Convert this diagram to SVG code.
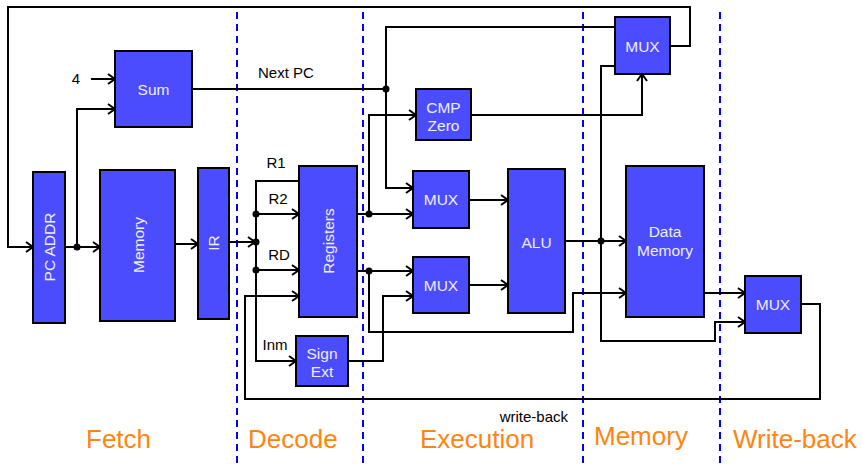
<svg xmlns="http://www.w3.org/2000/svg" width="862" height="465" viewBox="0 0 862 465">
<style>
.box{fill:#4C4CFF;stroke:#000;stroke-width:2}
.bt{font-family:"Liberation Sans",Arial,sans-serif;font-size:15.5px;fill:#EEEEFF;text-anchor:middle;dominant-baseline:central}
.lb{font-family:"Liberation Sans",Arial,sans-serif;font-size:15px;fill:#000}
.st{font-family:"Liberation Sans",Arial,sans-serif;font-size:26px;fill:#FF8410}
.w{fill:none;stroke:#000;stroke-width:2}
.a{marker-end:url(#arr)}
.stage{stroke:#0000FF;stroke-width:2;stroke-dasharray:7 5}
</style>
<defs>
<marker id="arr" markerUnits="userSpaceOnUse" viewBox="-10 -7 12 14" markerWidth="12" markerHeight="14" refX="0" refY="0" orient="auto">
<path d="M-7,-5 L0,0 L-7,5" fill="none" stroke="#000" stroke-width="2"/>
</marker>
</defs>
<rect width="862" height="465" fill="#fff"/>

<g id="stages">
<line class="stage" x1="237" y1="12" x2="237" y2="465"/>
<line class="stage" x1="363" y1="12" x2="363" y2="465"/>
<line class="stage" x1="583" y1="12" x2="583" y2="465"/>
<line class="stage" x1="720" y1="12" x2="720" y2="465"/>
</g>

<g id="connectors">
<polyline class="w a" points="670,46 690,46 690,7 8,7 8,247 33,247"/>
<line class="w a" x1="91" y1="79" x2="115" y2="79"/>
<line class="w a" x1="65" y1="247" x2="100" y2="247"/>
<polyline class="w a" points="77,247 77,109 115,109"/>
<line class="w a" x1="175" y1="244" x2="198" y2="244"/>
<line class="w a" x1="229" y1="242" x2="255" y2="242"/>
<polyline class="w a" points="299,181 256,181 256,361 296,361"/>
<line class="w a" x1="256" y1="214" x2="299" y2="214"/>
<line class="w a" x1="256" y1="270" x2="299" y2="270"/>
<line class="w" x1="192" y1="89" x2="386" y2="89"/>
<polyline class="w a" points="615,27 386,27 386,188 413,188"/>
<line class="w a" x1="357" y1="214" x2="413" y2="214"/>
<polyline class="w a" points="369,214 369,115 416,115"/>
<line class="w a" x1="357" y1="271" x2="413" y2="271"/>
<polyline class="w a" points="369,271 369,332 573,332 573,293 626,293"/>
<polyline class="w a" points="348,361 383,361 383,296 413,296"/>
<line class="w a" x1="469" y1="200" x2="508" y2="200"/>
<line class="w a" x1="469" y1="285" x2="508" y2="285"/>
<polyline class="w a" points="471,115 642,115 642,74"/>
<line class="w a" x1="565" y1="241" x2="626" y2="241"/>
<polyline class="w a" points="615,66 601,66 601,341 715,341 715,322 745,322"/>
<line class="w a" x1="704" y1="293" x2="745" y2="293"/>
<polyline class="w a" points="801,304 820,304 820,399 245,399 245,296 299,296"/>
<g fill="#000">
<circle cx="77" cy="247" r="3.5"/>
<circle cx="256" cy="214" r="3.5"/>
<circle cx="256" cy="242" r="3.5"/>
<circle cx="256" cy="270" r="3.5"/>
<circle cx="386" cy="89" r="3.5"/>
<circle cx="369" cy="214" r="3.5"/>
<circle cx="369" cy="271" r="3.5"/>
<circle cx="601" cy="241" r="3.5"/>
</g>
</g>

<g id="labels">
<text class="lb" x="76" y="84" text-anchor="middle">4</text>
<text class="lb" x="258" y="78">Next PC</text>
<text class="lb" x="276" y="168" text-anchor="middle">R1</text>
<text class="lb" x="278" y="204" text-anchor="middle">R2</text>
<text class="lb" x="279" y="260" text-anchor="middle">RD</text>
<text class="lb" x="275" y="350" text-anchor="middle">Inm</text>
<text class="lb" x="568" y="422" text-anchor="end">write-back</text>
</g>

<g id="pc"><rect class="box" x="33" y="172" width="32" height="151"/><text class="bt" transform="translate(49,247) rotate(-90)">PC ADDR</text></g>
<g id="sum"><rect class="box" x="115" y="51" width="77" height="76"/><text class="bt" x="153.5" y="89">Sum</text></g>
<g id="memory"><rect class="box" x="100" y="170" width="75" height="151"/><text class="bt" transform="translate(138,245) rotate(-90)">Memory</text></g>
<g id="ir"><rect class="box" x="198" y="168" width="31" height="151"/><text class="bt" transform="translate(213.5,243) rotate(-90)">IR</text></g>
<g id="registers"><rect class="box" x="299" y="166" width="58" height="151"/><text class="bt" transform="translate(328,241) rotate(-90)">Registers</text></g>
<g id="signext"><rect class="box" x="296" y="336" width="52" height="50"/><text class="bt" x="322" y="353">Sign</text><text class="bt" x="322" y="371">Ext</text></g>
<g id="cmpzero"><rect class="box" x="416" y="89" width="55" height="51"/><text class="bt" x="443.5" y="107">CMP</text><text class="bt" x="443.5" y="125">Zero</text></g>
<g id="mux1"><rect class="box" x="413" y="171" width="56" height="57"/><text class="bt" x="441" y="199.5">MUX</text></g>
<g id="mux2"><rect class="box" x="413" y="257" width="56" height="56"/><text class="bt" x="441" y="285">MUX</text></g>
<g id="alu"><rect class="box" x="508" y="169" width="57" height="144"/><text class="bt" x="536.5" y="242">ALU</text></g>
<g id="muxpc"><rect class="box" x="615" y="17" width="55" height="57"/><text class="bt" x="642.5" y="46">MUX</text></g>
<g id="datamem"><rect class="box" x="626" y="166" width="78" height="151"/><text class="bt" x="665" y="231">Data</text><text class="bt" x="665" y="250">Memory</text></g>
<g id="muxwb"><rect class="box" x="745" y="276" width="56" height="57"/><text class="bt" x="773" y="304.5">MUX</text></g>

<g id="stage-names">
<text class="st" x="86" y="448">Fetch</text>
<text class="st" x="248" y="448">Decode</text>
<text class="st" x="420" y="448">Execution</text>
<text class="st" x="594" y="445">Memory</text>
<text class="st" x="733" y="448">Write-back</text>
</g>
</svg>
